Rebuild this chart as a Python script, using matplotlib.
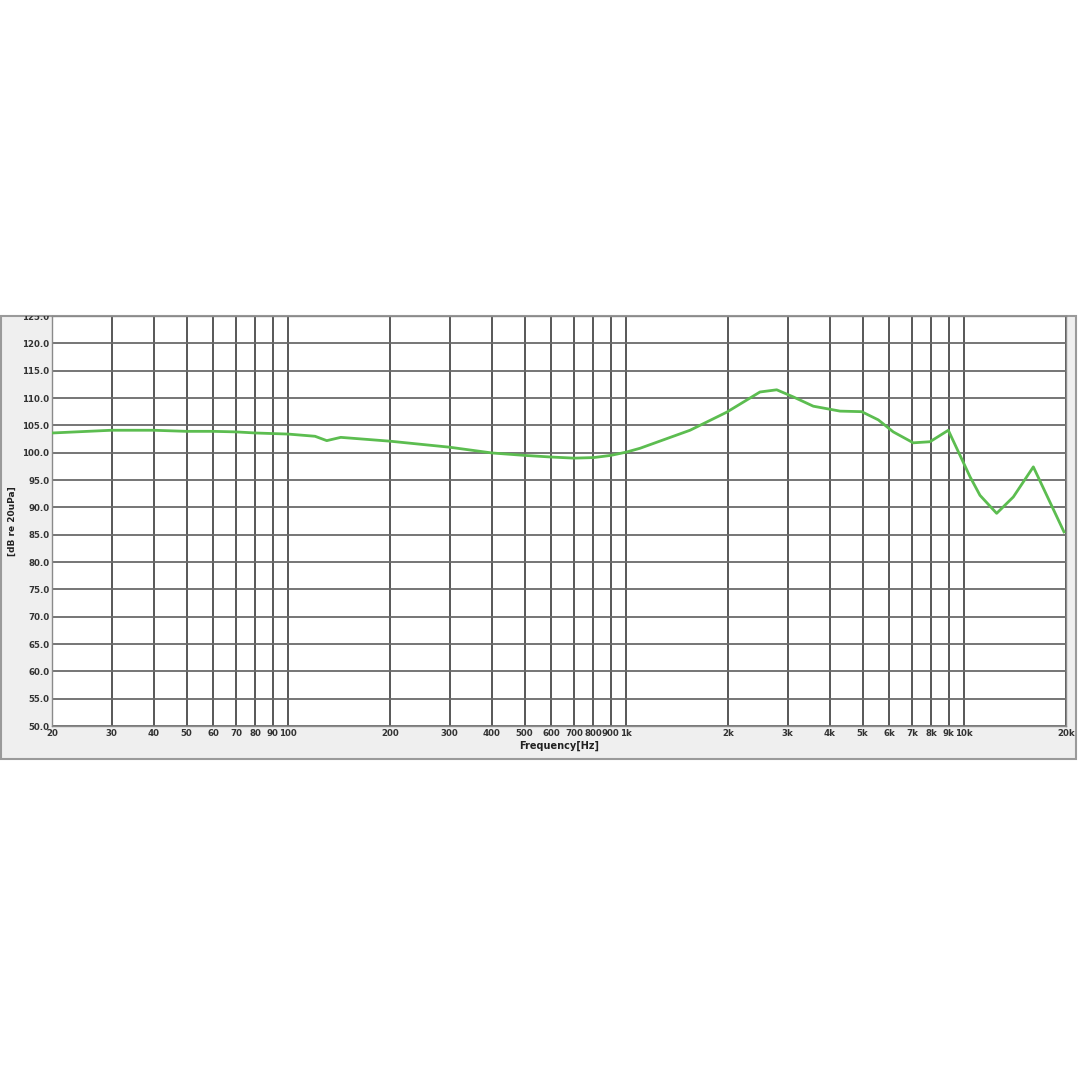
import matplotlib
matplotlib.use("Agg")
import matplotlib.pyplot as plt
from matplotlib.patches import Rectangle
from matplotlib.transforms import Bbox
import numpy as np

freq_hz = [20, 30, 40, 50, 60, 70, 80, 100, 120, 130, 143, 200, 300, 400, 500, 600,
           700, 800, 900, 1000, 1098, 1544, 1982, 2487, 2787, 3120, 3576, 4290, 4971,
           5568, 6166, 7067, 7918, 8970, 10400, 11130, 12470, 13970, 16010, 19730]
level_db = [103.6, 104.1, 104.1, 103.9, 103.9, 103.8, 103.6, 103.4, 103.0, 102.2, 102.8,
            102.1, 101.0, 99.95, 99.5, 99.2, 99.0, 99.1, 99.5, 100.1, 100.8, 104.1,
            107.4, 111.1, 111.5, 110.2, 108.5, 107.6, 107.5, 106.0, 103.8, 101.8, 102.0,
            104.1, 95.6, 92.2, 88.9, 91.9, 97.4, 85.5]

x_ticks = [20, 30, 40, 50, 60, 70, 80, 90, 100, 200, 300, 400, 500, 600, 700, 800, 900,
           1000, 2000, 3000, 4000, 5000, 6000, 7000, 8000, 9000, 10000, 20000]
x_tick_labels = ["20", "30", "40", "50", "60", "70", "80", "90", "100", "200", "300",
                 "400", "500", "600", "700", "800", "900", "1k", "2k", "3k", "4k", "5k",
                 "6k", "7k", "8k", "9k", "10k", "20k"]
y_ticks = [50, 55, 60, 65, 70, 75, 80, 85, 90, 95, 100, 105, 110, 115, 120, 125]

W = 1079
fig = plt.figure(figsize=(W / 100, W / 100), dpi=100)
fig.patch.set_facecolor("white")

# grey panel behind the chart (background axes)
bg = fig.add_axes([0, 0, 1, 1], zorder=-10)
bg.set_xlim(0, W)
bg.set_ylim(W, 0)
bg.axis("off")
bg.add_patch(Rectangle((1, 316), 1075, 759 - 316, facecolor="#efefef",
                       edgecolor="#9a9a9a", linewidth=1.5))

ax = fig.add_axes([52 / W, 1 - 726 / W, (1066 - 52) / W, (726 - 316) / W], zorder=1)
ax.set_facecolor("white")
ax.set_xscale("log")
ax.set_xlim(20, 20000)
ax.set_ylim(50, 125)

ax.set_xticks(x_ticks)
ax.set_xticklabels(x_tick_labels)
ax.xaxis.set_minor_locator(matplotlib.ticker.NullLocator())
ax.set_yticks(y_ticks)
ax.set_yticklabels([f"{v:.1f}" for v in y_ticks])
ax.tick_params(axis="both", length=0, labelsize=6.2, colors="#333333", pad=2)
for lab in ax.get_xticklabels() + ax.get_yticklabels():
    lab.set_fontweight("bold")

# the top label is cut by the panel edge, as in the source picture
clip_box = Bbox.from_extents(0, 0, W, W - 316)
top_lab = ax.get_yticklabels()[-1]
top_lab.set_clip_box(clip_box)
top_lab.set_clip_on(True)

ax.grid(True, which="major", axis="x", color="#4a4a4a", linewidth=1.3)
ax.grid(True, which="major", axis="y", color="#6a6a6a", linewidth=1.3)
ax.set_axisbelow(True)
for s in ax.spines.values():
    s.set_color("#8a8a8a")
    s.set_linewidth(1.0)

ax.plot(freq_hz, level_db, color="#5cbd50", linewidth=2.0, zorder=3)

ax.set_xlabel("Frequency[Hz]", fontsize=7, fontweight="bold", labelpad=2, color="#222222")
ax.set_ylabel("[dB re 20uPa]", fontsize=6.5, fontweight="bold", labelpad=4, color="#222222")

fig.savefig("out.png", dpi=100, facecolor="white")
